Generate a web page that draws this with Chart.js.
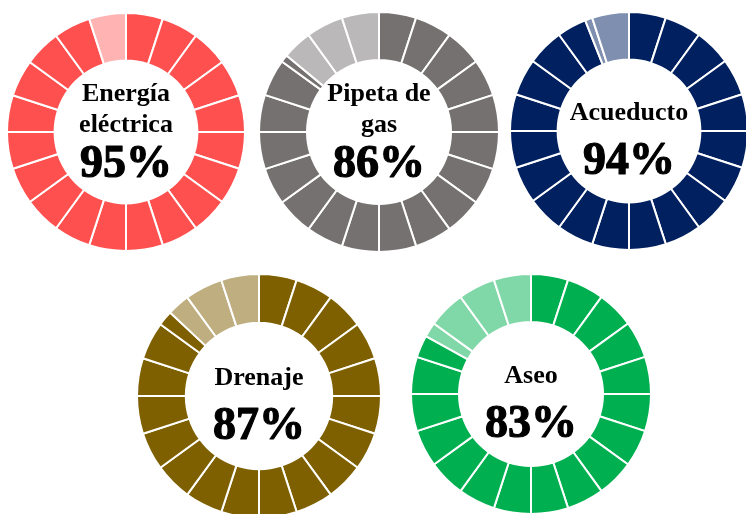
<!DOCTYPE html>
<html>
<head>
<meta charset="utf-8">
<script src="https://cdn.jsdelivr.net/npm/chart.js@4.4.0/dist/chart.umd.min.js"></script>
<style>
  html, body { margin: 0; padding: 0; background: #fff; }
  #stage { position: relative; width: 746px; height: 514px; overflow: hidden; }
  #stage canvas { position: absolute; }
</style>
</head>
<body>
<div id="stage"></div>
<script>
// Coverage per service (%)
const services = [['Energía', 'eléctrica'], ['Pipeta de', 'gas'], ['Acueducto'], ['Drenaje'], ['Aseo']];
const values = [95, 86, 94, 87, 83];
const darkColors = ['#FF5050', '#767171', '#002060', '#7F6000', '#00B050'];
const lightColors = ['#FFB3B3', '#BAB8B8', '#7F8FAF', '#BFAF80', '#80D7A7'];
const segmentCount = 20;

// ring placement: centre x, centre y, outer radius
const layout = [
  [126, 132, 118],
  [379, 132, 119],
  [629, 131, 118],
  [259, 396, 121],
  [531, 394, 119],
];

const SERIF = "'Liberation Serif', 'Times New Roman', serif";

/** Split the ring into 5% blocks, cutting the block that holds the value. */
function buildPieces(value, dark, light) {
  const data = [], colors = [];
  const step = 100 / segmentCount;
  for (let i = 0; i < segmentCount; i++) {
    const start = i * step, end = start + step;
    if (value >= end) { data.push(step); colors.push(dark); }
    else if (value <= start) { data.push(step); colors.push(light); }
    else {
      data.push(value - start); colors.push(dark);
      data.push(end - value); colors.push(light);
    }
  }
  return { data, colors };
}

const centerText = {
  id: 'centerText',
  afterDraw(chart, args, opts) {
    const { ctx } = chart;
    const meta = chart.getDatasetMeta(0).data[0];
    const cx = meta.x, cy = meta.y;
    ctx.save();
    ctx.fillStyle = '#000';
    ctx.strokeStyle = '#000';
    ctx.textAlign = 'center';
    ctx.textBaseline = 'alphabetic';
    ctx.font = 'bold 26px ' + SERIF;
    const lines = opts.lines;
    const first = lines.length > 1 ? -31 : -11;
    lines.forEach((line, i) => {
      ctx.fillText(line, cx, cy + first + i * 31);
    });
    const numY = lines.length > 1 ? cy + 45 : cy + 43;
    ctx.font = 'bold 46px ' + SERIF;
    ctx.lineWidth = 1.2;
    ctx.lineJoin = 'round';
    ctx.strokeText(opts.value + '%', cx, numY);
    ctx.fillText(opts.value + '%', cx, numY);
    ctx.restore();
  },
};

function render() {
  const stage = document.getElementById('stage');
  values.forEach((value, idx) => {
    const [cx, cy, r] = layout[idx];
    const size = 2 * (r + 2);
    const canvas = document.createElement('canvas');
    canvas.width = size;
    canvas.height = size;
    canvas.style.left = (cx - size / 2) + 'px';
    canvas.style.top = (cy - size / 2) + 'px';
    canvas.style.width = size + 'px';
    canvas.style.height = size + 'px';
    stage.appendChild(canvas);

    const pieces = buildPieces(value, darkColors[idx], lightColors[idx]);

    new Chart(canvas.getContext('2d'), {
      type: 'doughnut',
      data: {
        datasets: [{
          data: pieces.data,
          backgroundColor: pieces.colors,
          borderColor: '#ffffff',
          borderWidth: 2,
        }],
      },
      options: {
        responsive: false,
        animation: false,
        cutout: '60%',
        layout: { padding: 0 },
        events: [],
        plugins: {
          legend: { display: false },
          tooltip: { enabled: false },
          centerText: { lines: services[idx], value },
        },
      },
      plugins: [centerText],
    });
  });
}

document.fonts.load('bold 26px ' + SERIF, 'Energía 95%').then(render, render);
</script>
</body>
</html>
